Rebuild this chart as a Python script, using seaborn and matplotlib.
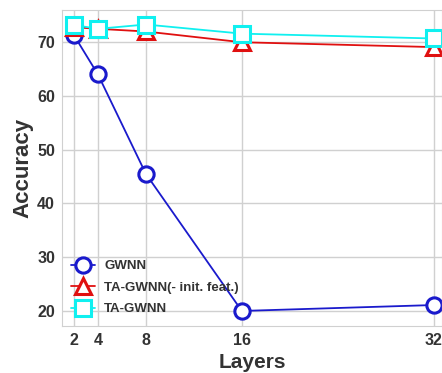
import pandas as pd
import seaborn as sns
import matplotlib.pyplot as plt

layers = [2, 4, 8, 16, 32]
gwnn = [71.3, 64.0, 45.5, 20.0, 21.1]
ta_gwnn_noinit = [72.8, 72.5, 72.0, 70.0, 69.1]
ta_gwnn = [73.2, 72.5, 73.3, 71.6, 70.7]

series = [
    ('GWNN', gwnn, '#1a1acc', 'o'),
    ('TA-GWNN(- init. feat.)', ta_gwnn_noinit, '#e01010', '^'),
    ('TA-GWNN', ta_gwnn, '#10f0f0', 's'),
]

sns.set_style('whitegrid')
plt.rcParams['font.family'] = ['Liberation Sans', 'DejaVu Sans']
plt.rcParams['font.weight'] = 'bold'

fig = plt.figure(figsize=(4.42, 3.73), dpi=100)
ax = fig.add_axes([62 / 442, 47 / 373, 380 / 442, 316 / 373])

for name, vals, color, marker in series:
    df = pd.DataFrame({'Layers': layers, 'Accuracy': vals})
    sns.lineplot(data=df, x='Layers', y='Accuracy', ax=ax, color=color, marker=marker,
                 markersize=11, markerfacecolor='white', markeredgecolor=color,
                 markeredgewidth=2.2, linewidth=1.3, label=name, clip_on=False)

ax.set_xlim(1, 32.7)
ax.set_ylim(17.2, 76)
ax.set_xticks(layers)
ax.set_yticks([20, 30, 40, 50, 60, 70])
ax.tick_params(labelsize=11.5, pad=1.5)
for lab in ax.get_xticklabels() + ax.get_yticklabels():
    lab.set_fontweight('bold')
    lab.set_color('#333333')
ax.set_xlabel('Layers', fontsize=15, fontweight='bold', color='#333333', labelpad=4)
ax.set_ylabel('Accuracy', fontsize=16, fontweight='bold', color='#333333', labelpad=3)
ax.grid(color='#d0d0d0', linewidth=1)
for s in ax.spines.values():
    s.set_color('#d0d0d0')
leg = ax.legend(loc='lower left', frameon=False, fontsize=9.5, bbox_to_anchor=(0.0, 0.005),
                handlelength=1.8, handletextpad=0.7, labelspacing=0.7, borderaxespad=0.3)
for t in leg.get_texts():
    t.set_color('#333333')

plt.savefig('out.png', dpi=100)
